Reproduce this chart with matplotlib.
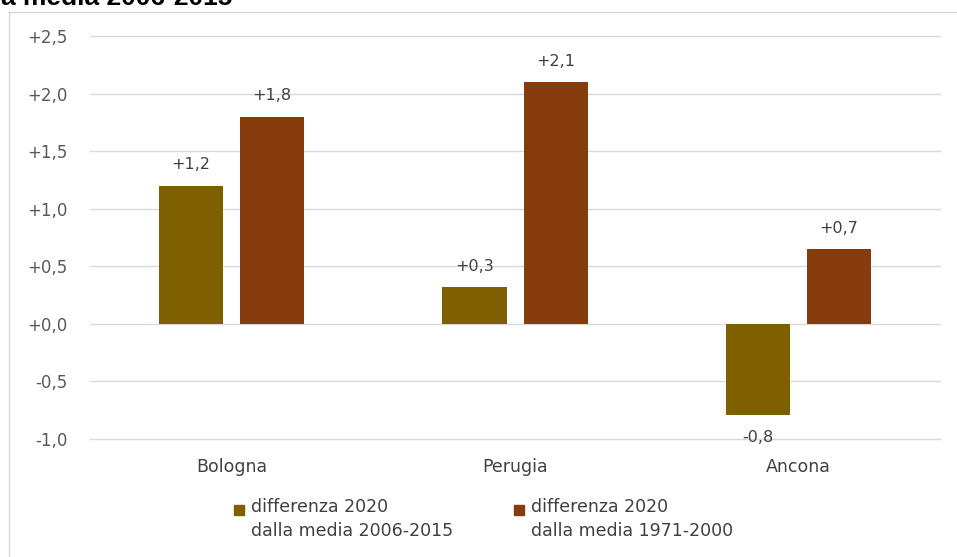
import numpy as np
import matplotlib.pyplot as plt
from matplotlib.lines import Line2D
from matplotlib.patches import Rectangle

# data
citta = ['Bologna', 'Perugia', 'Ancona']
diff_2006_2015 = [1.2, 0.32, -0.79]
diff_1971_2000 = [1.8, 2.1, 0.65]
serie = ['differenza 2020\ndalla media 2006-2015',
         'differenza 2020\ndalla media 1971-2000']
colori = ['#7F6000', '#843C0C']
yticks = [-1.0, -0.5, 0.0, 0.5, 1.0, 1.5, 2.0, 2.5]


def fmt(v):
    return f'{v:+.1f}'.replace('.', ',')


fig = plt.figure(figsize=(9.57, 5.57), dpi=100)
ax = fig.add_axes([90 / 957, 1 - 439 / 557, 850 / 957, 403 / 557])

x = np.arange(len(citta))
w = 0.226
off = 0.143
for i, (vals, col) in enumerate(zip([diff_2006_2015, diff_1971_2000], colori)):
    pos = x + (off if i else -off)
    ax.bar(pos, vals, width=w, color=col, zorder=3)
    for p, v in zip(pos, vals):
        dy = 15 if v >= 0 else -16
        ax.annotate(fmt(v), (p, v), xytext=(0, dy), textcoords='offset points',
                    ha='center', va='center', fontsize=11.5, color='#404040')

ax.set_xlim(-0.5, 2.5)
ax.set_ylim(-1.0, 2.5)
ax.set_yticks(yticks)
ax.set_yticklabels([fmt(t) if t != 0 else '+0,0' for t in yticks])
ax.yaxis.grid(True, color='#D9D9D9', linewidth=1, zorder=0)
for gl in ax.get_ygridlines():
    gl.set_clip_on(False)
ax.set_xticks(x)
ax.set_xticklabels(citta, fontsize=12.5, color='#404040')
for s in ax.spines.values():
    s.set_visible(False)
ax.tick_params(axis='both', length=0)
ax.tick_params(axis='y', labelsize=12, labelcolor='#595959', pad=16)
ax.tick_params(axis='x', pad=14)

# legend drawn by hand: square aligned with first line of text
leg_x = [234, 514]
for lx, col, lab in zip(leg_x, colori, serie):
    fig.add_artist(Rectangle((lx / 957, 1 - 515 / 557), 10 / 957, 10 / 557,
                             transform=fig.transFigure, color=col))
    fig.text((lx + 17) / 957, 1 - 498 / 557, lab, fontsize=12.5, color='#404040',
             va='top', ha='left', linespacing=1.45)

# outer chart frame (only top and left visible)
fig.add_artist(Line2D([9 / 957, 1], [1 - 12 / 557, 1 - 12 / 557],
                      transform=fig.transFigure, color='#D9D9D9', lw=1))
fig.add_artist(Line2D([9 / 957, 9 / 957], [0, 1 - 12 / 557],
                      transform=fig.transFigure, color='#D9D9D9', lw=1))

# title cut off at the top of the image
fig.text(1 / 957, 1 - 5 / 557, 'a media 2006-2015', fontsize=19, fontweight='bold',
         fontfamily='Liberation Sans', va='baseline', ha='left', color='#000000')

fig.savefig('out.png', dpi=100)
